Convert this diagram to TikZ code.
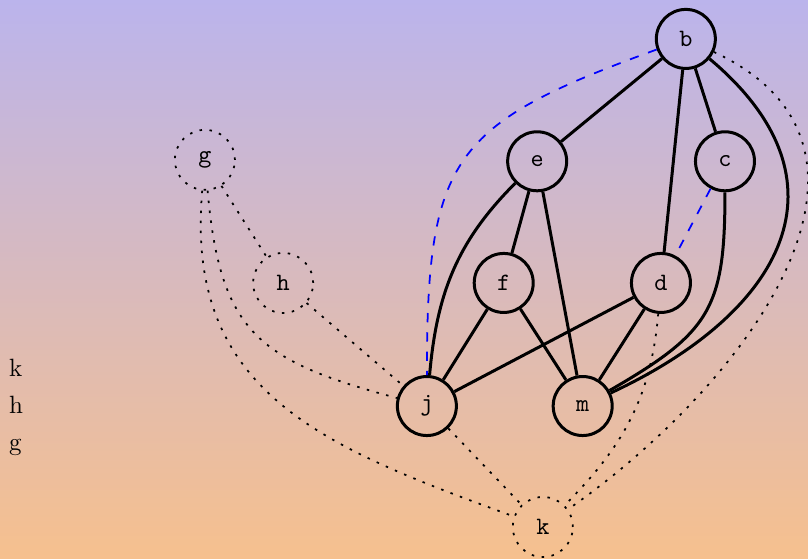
\documentclass[tikz,border=0pt]{standalone}
\usepackage{xcolor}
\usepackage{tikz}
\usetikzlibrary{positioning,calc}
\definecolor{skytop}{RGB}{187,180,236}
\definecolor{skybottom}{RGB}{246,192,142}

\begin{document}
\begin{tikzpicture}[
    vertex/.style={circle, draw, line width=1.2pt, minimum size=23.6pt, inner sep=0pt, font=\ttfamily},
    ghost/.style={circle, draw, line width=0.7pt, dash pattern=on 1pt off 3pt, minimum size=24pt, inner sep=0pt, font=\ttfamily},
    edge/.style={line width=1.2pt},
    faint/.style={line width=0.7pt, dash pattern=on 1pt off 3pt},
    hint/.style={blue, line width=0.7pt, dash pattern=on 3.7pt off 4pt}]
    % Background
    \shade[top color=skytop, bottom color=skybottom] (0,0) rectangle (11.357,7.857);
    \useasboundingbox (0,0) rectangle (11.357,7.857);

    % Vertices
    \node[vertex] (b) at (9.64,7.31) {b};
    \node[vertex] (e) at (7.55,5.59) {e};
    \node[vertex] (c) at (10.19,5.59) {c};
    \node[vertex] (f) at (7.08,3.88) {f};
    \node[vertex] (d) at (9.29,3.88) {d};
    \node[vertex] (j) at (6.00,2.15) {j};
    \node[vertex] (m) at (8.19,2.15) {m};

    % Removed vertices
    \node[ghost] (g) at (2.88,5.61) {g};
    \node[ghost] (h) at (3.98,3.88) {h};
    \node[ghost] (k) at (7.63,0.45) {k};

    % List on the left
    \node[anchor=base west, inner sep=0pt] (lk) at (0.12,2.57) {k};
    \node[anchor=base west, inner sep=0pt] (lh) at (0.12,2.05) {h};
    \node[anchor=base west, inner sep=0pt] (lg) at (0.12,1.53) {g};

    % Edges
    \draw[edge] (b) -- (e);
    \draw[edge] (b) -- (c);
    \draw[edge] (b) -- (d);
    \draw[edge] (b) to[out=-40,in=25,looseness=1.4] (m);
    \draw[edge] (c) to[out=-90,in=30,looseness=1.3] (m);
    \draw[edge] (e) -- (f);
    \draw[edge] (e) -- (m);
    \draw[edge] (e) to[out=-135,in=85] (j);
    \draw[edge] (f) -- (j);
    \draw[edge] (f) -- (m);
    \draw[edge] (d) -- (j);
    \draw[edge] (d) -- (m);

    % Blue dashed edges
    \draw[hint] (b) to[out=200,in=90,looseness=1.4] (j);
    \draw[hint] (c) -- (d);

    % Dotted edges
    \draw[faint] (g) -- (h);
    \draw[faint] (h) -- (j);
    \draw[faint] (j) -- (k);
    \draw[faint] (g) to[out=-85,in=165,looseness=1.3] (j);
    \draw[faint] (g) to[out=-95,in=160,looseness=1.15] (k);
    \draw[faint] (d) to[out=-95,in=45] (k);
    \draw[faint] (b) to[out=-25,in=35,looseness=1.2] (k);
\end{tikzpicture}
\end{document}
